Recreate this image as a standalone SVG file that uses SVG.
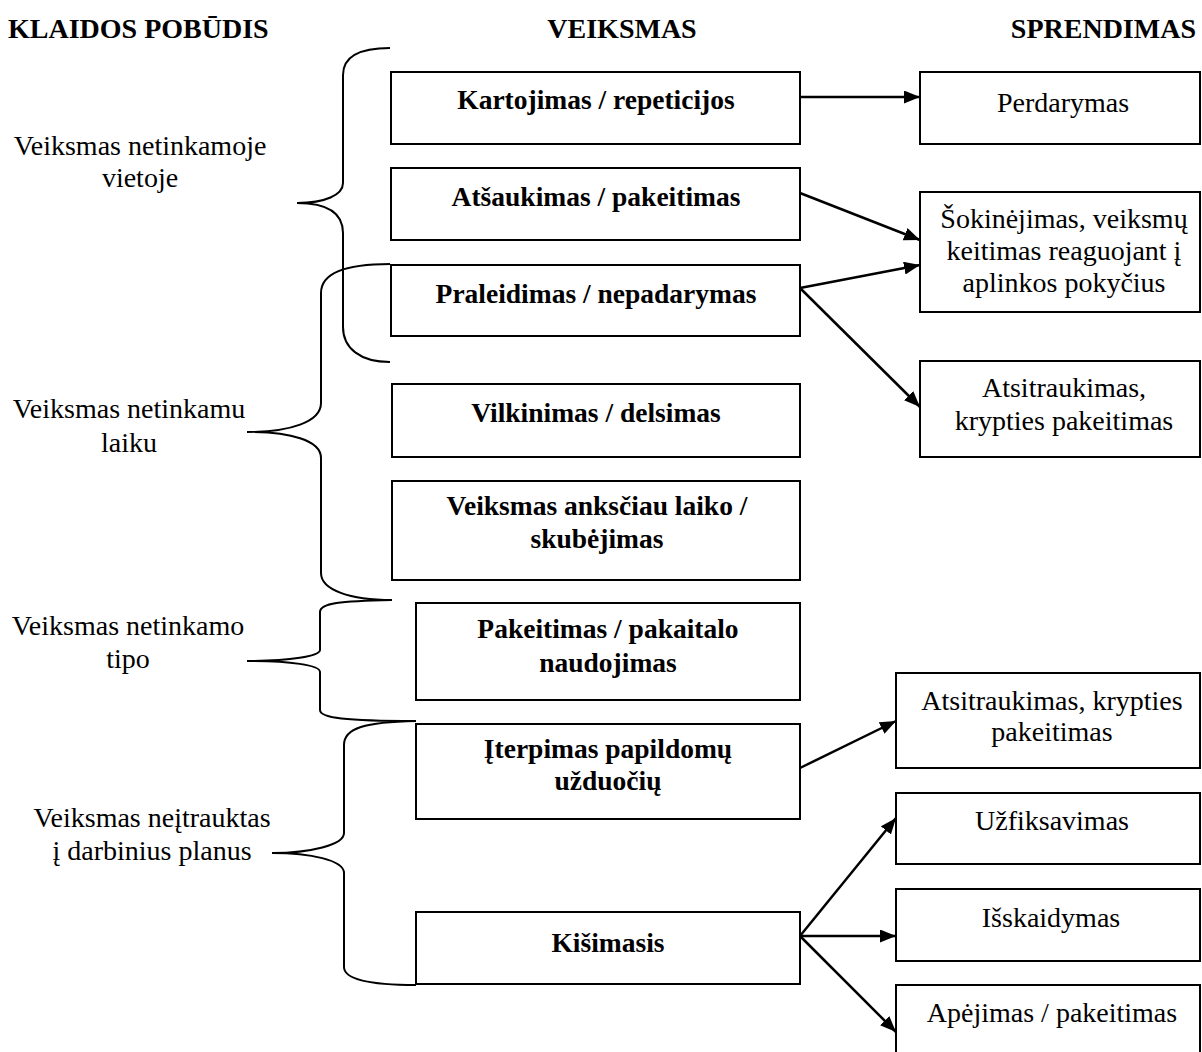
<svg xmlns="http://www.w3.org/2000/svg" width="1202" height="1052" viewBox="0 0 1202 1052">
  <style>
    .box { fill: #fff; stroke: #000; stroke-width: 2; }
    .brace { fill: none; stroke: #000; stroke-width: 2; }
    .conn { fill: none; stroke: #000; stroke-width: 2.5; marker-end: url(#arrow); }
    text { font-family: "Liberation Serif", "Times New Roman", serif; fill: #000; }
    .hdr { font-size: 28px; font-weight: bold; }
    .lbl { font-size: 28px; text-anchor: middle; }
    .act { font-size: 27.5px; font-weight: bold; text-anchor: middle; }
    .sol { font-size: 28px; text-anchor: middle; }
  </style>
  <defs>
    <marker id="arrow" markerUnits="userSpaceOnUse" markerWidth="17" markerHeight="14" refX="16" refY="6.5" orient="auto">
      <path d="M0,0 L16,6.5 L0,13 Z" fill="#000"/>
    </marker>
  </defs>
  <rect width="1202" height="1052" fill="#fff"/>

  <!-- column headings -->
  <g id="headings">
    <text class="hdr" x="8" y="38">KLAIDOS POBŪDIS</text>
    <text class="hdr" x="622" y="38" text-anchor="middle">VEIKSMAS</text>
    <text class="hdr" x="1196" y="38" text-anchor="end">SPRENDIMAS</text>
  </g>

  <!-- error categories with braces -->
  <g id="cat-vieta">
    <path class="brace" d="M390,48 C358,48 343,58 343,75 L343,183 C343,195 325,203 297,203 C325,203 343,211 343,233 L343,327 C343,348 360,362 390,362"/>
    <text class="lbl" x="140" y="155">Veiksmas netinkamoje</text>
    <text class="lbl" x="140" y="187">vietoje</text>
  </g>
  <g id="cat-laikas">
    <path class="brace" d="M390,264 C348,264 321,272 321,293 L321,403 C321,422 290,432 247,432 C290,432 321,440 321,458 L321,573 C321,590 350,600 392,600"/>
    <text class="lbl" x="129" y="418">Veiksmas netinkamu</text>
    <text class="lbl" x="129" y="452">laiku</text>
  </g>
  <g id="cat-tipas">
    <path class="brace" d="M392,600 C340,601 320,603 320,612 L320,650 C320,656 290,661 247,661 C290,661 320,665 320,672 L320,710 C320,718 345,721 416,721"/>
    <text class="lbl" x="128" y="635">Veiksmas netinkamo</text>
    <text class="lbl" x="128" y="668">tipo</text>
  </g>
  <g id="cat-planai">
    <path class="brace" d="M416,721 C365,722 344,728 344,745 L344,833 C344,845 310,853 272,853 C310,853 344,860 344,873 L344,967 C344,978 365,985 416,985"/>
    <text class="lbl" x="152" y="827">Veiksmas neįtrauktas</text>
    <text class="lbl" x="152" y="860">į darbinius planus</text>
  </g>

  <!-- actions -->
  <g id="act-kartojimas">
    <rect class="box" x="391" y="72" width="409" height="72"/>
    <text class="act" x="596" y="109">Kartojimas / repeticijos</text>
  </g>
  <g id="act-atsaukimas">
    <rect class="box" x="391" y="168" width="409" height="72"/>
    <text class="act" x="596" y="206">Atšaukimas / pakeitimas</text>
  </g>
  <g id="act-praleidimas">
    <rect class="box" x="391" y="265" width="409" height="71"/>
    <text class="act" x="596" y="303">Praleidimas / nepadarymas</text>
  </g>
  <g id="act-vilkinimas">
    <rect class="box" x="392" y="384" width="408" height="73"/>
    <text class="act" x="596" y="422">Vilkinimas / delsimas</text>
  </g>
  <g id="act-skubejimas">
    <rect class="box" x="392" y="481" width="408" height="99"/>
    <text class="act" x="597" y="515">Veiksmas anksčiau laiko /</text>
    <text class="act" x="597" y="548">skubėjimas</text>
  </g>
  <g id="act-pakaitalas">
    <rect class="box" x="416" y="603" width="384" height="97"/>
    <text class="act" x="608" y="638">Pakeitimas / pakaitalo</text>
    <text class="act" x="608" y="672">naudojimas</text>
  </g>
  <g id="act-iterpimas">
    <rect class="box" x="416" y="724" width="384" height="95"/>
    <text class="act" x="608" y="758">Įterpimas papildomų</text>
    <text class="act" x="608" y="790">užduočių</text>
  </g>
  <g id="act-kisimasis">
    <rect class="box" x="416" y="912" width="384" height="72"/>
    <text class="act" x="608" y="952">Kišimasis</text>
  </g>

  <!-- solutions -->
  <g id="sol-perdarymas">
    <rect class="box" x="920" y="72" width="280" height="72"/>
    <text class="sol" x="1063" y="112">Perdarymas</text>
  </g>
  <g id="sol-sokinejimas">
    <rect class="box" x="920" y="192" width="280" height="120"/>
    <text class="sol" x="1064" y="228">Šokinėjimas, veiksmų</text>
    <text class="sol" x="1064" y="260">keitimas reaguojant į</text>
    <text class="sol" x="1064" y="292">aplinkos pokyčius</text>
  </g>
  <g id="sol-atsitraukimas-1">
    <rect class="box" x="920" y="361" width="280" height="96"/>
    <text class="sol" x="1064" y="397">Atsitraukimas,</text>
    <text class="sol" x="1064" y="430">krypties pakeitimas</text>
  </g>
  <g id="sol-atsitraukimas-2">
    <rect class="box" x="896" y="673" width="304" height="95"/>
    <text class="sol" x="1052" y="710">Atsitraukimas, krypties</text>
    <text class="sol" x="1052" y="741">pakeitimas</text>
  </g>
  <g id="sol-uzfiksavimas">
    <rect class="box" x="896" y="793" width="304" height="71"/>
    <text class="sol" x="1052" y="830">Užfiksavimas</text>
  </g>
  <g id="sol-isskaidymas">
    <rect class="box" x="896" y="889" width="304" height="72"/>
    <text class="sol" x="1051" y="927">Išskaidymas</text>
  </g>
  <g id="sol-apejimas">
    <rect class="box" x="896" y="985" width="304" height="80"/>
    <text class="sol" x="1052" y="1022">Apėjimas / pakeitimas</text>
  </g>

  <!-- connectors -->
  <g id="connectors">
    <line class="conn" x1="800" y1="97" x2="920" y2="97"/>
    <line class="conn" x1="800" y1="193" x2="920" y2="240"/>
    <line class="conn" x1="800" y1="288" x2="920" y2="265"/>
    <line class="conn" x1="800" y1="288" x2="920" y2="407"/>
    <line class="conn" x1="800" y1="768" x2="896" y2="721"/>
    <line class="conn" x1="800" y1="936" x2="896" y2="818"/>
    <line class="conn" x1="800" y1="936" x2="896" y2="936"/>
    <line class="conn" x1="800" y1="936" x2="896" y2="1032"/>
  </g>
</svg>
